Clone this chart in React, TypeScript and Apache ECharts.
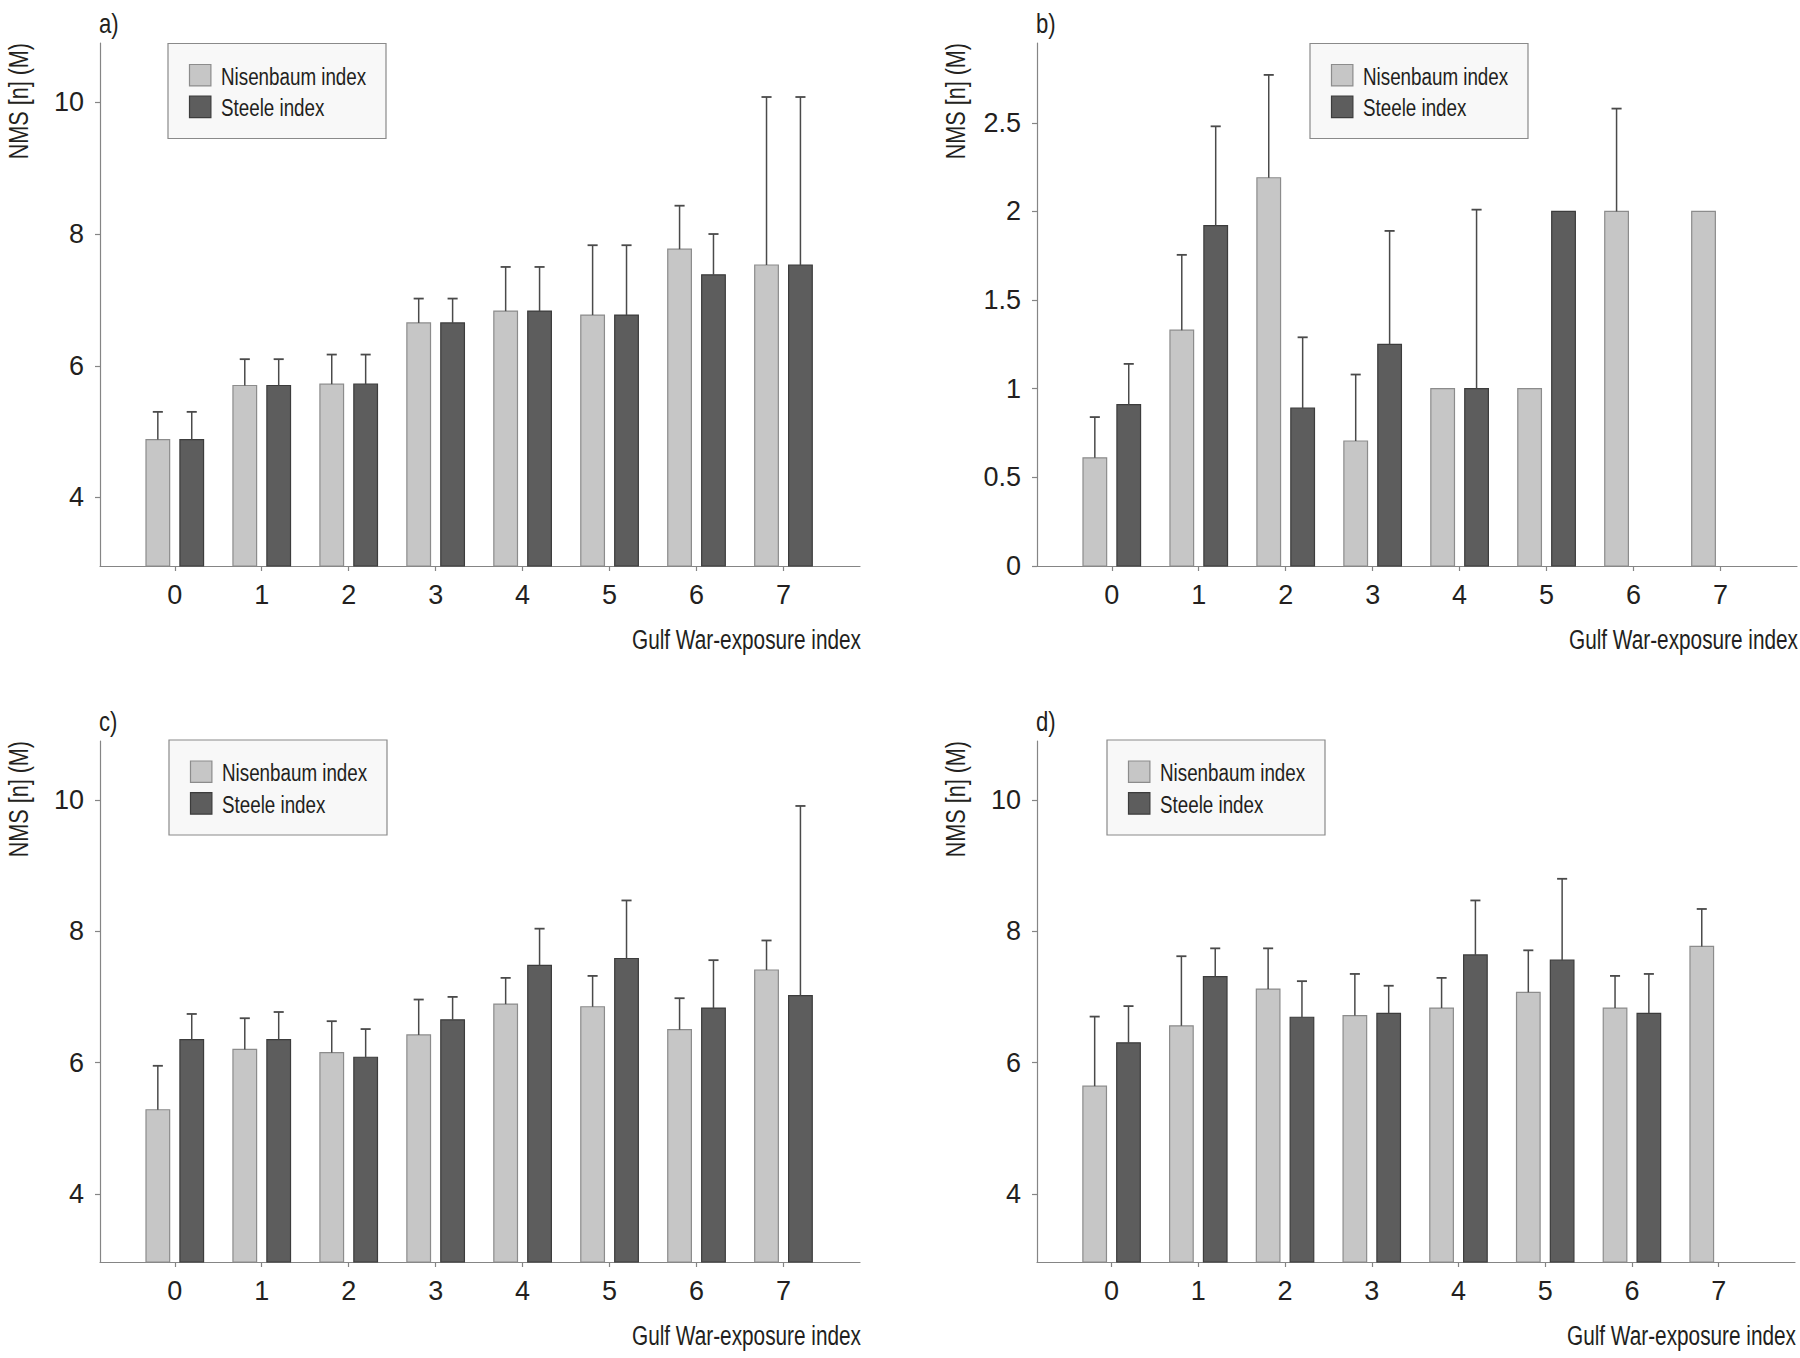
import React, { useEffect, useRef } from "react";
import * as echarts from "echarts";

// ---------- data ----------
const CATEGORIES = [0, 1, 2, 3, 4, 5, 6, 7];
const Y_TICKS_NMS = [4, 6, 8, 10];
const Y_TICKS_B = [0, 0.5, 1, 1.5, 2, 2.5];
const SERIES_NAMES = ["Nisenbaum index", "Steele index"];
const PANEL_LABELS = ["a)", "b)", "c)", "d)"];
const X_NAME = "Gulf War-exposure index";
const Y_NAME = "NMS [n] (M)";

// panel a
const A_NIS = [4.88, 5.7, 5.72, 6.65, 6.83, 6.77, 7.77, 7.53];
const A_NIS_TOP = [5.3, 6.1, 6.17, 7.02, 7.5, 7.83, 8.43, 10.08];
const A_STE = [4.88, 5.7, 5.72, 6.65, 6.83, 6.77, 7.38, 7.53];
const A_STE_TOP = [5.3, 6.1, 6.17, 7.02, 7.5, 7.83, 8.0, 10.08];
// panel b
const B_NIS = [0.61, 1.33, 2.19, 0.705, 1.0, 1.0, 2.0, 2.0];
const B_NIS_TOP = [0.84, 1.755, 2.77, 1.08, null, null, 2.58, null];
const B_STE = [0.91, 1.92, 0.89, 1.25, 1.0, 2.0, null, null];
const B_STE_TOP = [1.14, 2.48, 1.29, 1.89, 2.01, null, null, null];
// panel c
const C_NIS = [5.28, 6.2, 6.15, 6.42, 6.89, 6.85, 6.5, 7.41];
const C_NIS_TOP = [5.95, 6.675, 6.63, 6.96, 7.29, 7.32, 6.98, 7.86];
const C_STE = [6.35, 6.35, 6.08, 6.65, 7.48, 7.585, 6.83, 7.02];
const C_STE_TOP = [6.74, 6.77, 6.51, 7.0, 8.04, 8.47, 7.56, 9.91];
// panel d
const D_NIS = [5.64, 6.56, 7.12, 6.715, 6.83, 7.07, 6.83, 7.77];
const D_NIS_TOP = [6.7, 7.62, 7.74, 7.35, 7.29, 7.71, 7.32, 8.34];
const D_STE = [6.3, 7.31, 6.69, 6.75, 7.64, 7.56, 6.75, null];
const D_STE_TOP = [6.86, 7.74, 7.24, 7.17, 8.47, 8.8, 7.35, null];

// ---------- styles ----------
const FONT = '"Liberation Sans", Arial, "DejaVu Sans", sans-serif';
const TEXT = "#231f20";
const AXIS = "#858585";
const FILLS = ["#c6c6c6", "#5d5d5d"];
const STROKES = ["#8c8c8c", "#3c3c3c"];
const ERR = "#4a4a4a";
const OFFSETS = [-0.195, 0.195];
const HALF_W = 0.136;
const CAP = 0.058;

type Panel = {
  grid: { left: number; top: number; width: number; height: number };
  legend: { left: number; top: number };
  yMin: number;
  yMax: number;
  yTicks: number[];
  nis: (number | null)[];
  nisTop: (number | null)[];
  ste: (number | null)[];
  steTop: (number | null)[];
};

const PANELS: Panel[] = [
  { grid: { left: 100, top: 43, width: 760, height: 523 }, legend: { left: 168, top: 43.5 }, yMin: 2.96, yMax: 10.9, yTicks: Y_TICKS_NMS, nis: A_NIS, nisTop: A_NIS_TOP, ste: A_STE, steTop: A_STE_TOP },
  { grid: { left: 1037, top: 43, width: 760, height: 523 }, legend: { left: 1310, top: 43.5 }, yMin: 0, yMax: 2.95, yTicks: Y_TICKS_B, nis: B_NIS, nisTop: B_NIS_TOP, ste: B_STE, steTop: B_STE_TOP },
  { grid: { left: 100, top: 741, width: 760, height: 521 }, legend: { left: 169, top: 740 }, yMin: 2.96, yMax: 10.9, yTicks: Y_TICKS_NMS, nis: C_NIS, nisTop: C_NIS_TOP, ste: C_STE, steTop: C_STE_TOP },
  { grid: { left: 1037, top: 741, width: 758, height: 521 }, legend: { left: 1107, top: 740 }, yMin: 2.96, yMax: 10.9, yTicks: Y_TICKS_NMS, nis: D_NIS, nisTop: D_NIS_TOP, ste: D_STE, steTop: D_STE_TOP },
];

function makeRender(k: number, yMin: number) {
  return (params: any, api: any) => {
    const x = api.value(0);
    const v = api.value(1);
    const e = api.value(2);
    if (v == null || isNaN(v)) return null;
    const cx = x + OFFSETS[k];
    const p0 = api.coord([cx - HALF_W, v]);
    const p1 = api.coord([cx + HALF_W, yMin]);
    const children: any[] = [
      {
        type: "rect",
        shape: { x: p0[0], y: p0[1], width: p1[0] - p0[0], height: p1[1] - p0[1] },
        style: { fill: FILLS[k], stroke: STROKES[k], lineWidth: 1.2 },
      },
    ];
    if (e != null && !isNaN(e)) {
      const b = api.coord([cx, v]);
      const t = api.coord([cx, e]);
      const l = api.coord([cx - CAP, e]);
      const r = api.coord([cx + CAP, e]);
      children.push({ type: "line", shape: { x1: b[0], y1: b[1], x2: t[0], y2: t[1] }, style: { stroke: ERR, lineWidth: 1.5 } });
      children.push({ type: "line", shape: { x1: l[0], y1: t[1], x2: r[0], y2: t[1] }, style: { stroke: ERR, lineWidth: 1.8 } });
    }
    return { type: "group", children };
  };
}

const LEG_W = 218;
const LEG_H = 95;

function buildOption() {
  const grid: any[] = [];
  const xAxis: any[] = [];
  const yAxis: any[] = [];
  const series: any[] = [];
  const graphic: any[] = [];

  PANELS.forEach((p, i) => {
    grid.push({ ...p.grid, containLabel: false });
    xAxis.push({
      type: "value",
      gridIndex: i,
      min: -0.86,
      max: 7.88,
      splitLine: { show: false },
      axisLine: { show: true, onZero: false, lineStyle: { color: AXIS, width: 1.2 } },
      axisTick: { show: true, inside: false, length: 5, customValues: CATEGORIES, lineStyle: { color: AXIS, width: 1.2 } },
      axisLabel: { customValues: CATEGORIES, margin: 15, color: TEXT, fontFamily: FONT, fontSize: 27 },
    });
    yAxis.push({
      type: "value",
      gridIndex: i,
      min: p.yMin,
      max: p.yMax,
      splitLine: { show: false },
      axisLine: { show: true, onZero: false, lineStyle: { color: AXIS, width: 1.2 } },
      axisTick: { show: true, inside: false, length: 5, customValues: p.yTicks, lineStyle: { color: AXIS, width: 1.2 } },
      axisLabel: { customValues: p.yTicks, margin: 16, color: TEXT, fontFamily: FONT, fontSize: 27 },
    });
    const groups = [
      [p.nis, p.nisTop],
      [p.ste, p.steTop],
    ];
    groups.forEach((g, k) => {
      const vals = g[0] as (number | null)[];
      const tops = g[1] as (number | null)[];
      series.push({
        type: "custom",
        name: SERIES_NAMES[k],
        xAxisIndex: i,
        yAxisIndex: i,
        dimensions: ["x", "v", "e"],
        encode: { x: 0, y: 1 },
        itemStyle: { color: FILLS[k], borderColor: STROKES[k] },
        clip: false,
        data: CATEGORIES.map((c, j) => [c, vals[j], tops[j]]),
        renderItem: makeRender(k, p.yMin),
      });
    });

    // legend box (condensed type, drawn as graphic so the text can be narrowed)
    const L = p.legend;
    const legendChildren: any[] = [
      {
        type: "rect",
        shape: { x: 0, y: 0, width: LEG_W, height: LEG_H },
        style: { fill: "#f8f8f8", stroke: "#8a8a8a", lineWidth: 1.2 },
      },
    ];
    SERIES_NAMES.forEach((n, k) => {
      const sy = 21 + k * 31.7;
      legendChildren.push({
        type: "rect",
        shape: { x: 21.5, y: sy, width: 21.4, height: 21.4 },
        style: { fill: FILLS[k], stroke: STROKES[k], lineWidth: 1.2 },
      });
      legendChildren.push({
        type: "text",
        x: 53,
        y: sy + 12.5,
        scaleX: 0.8,
        style: { text: n, fill: TEXT, fontFamily: FONT, fontSize: 23.5, align: "left", verticalAlign: "middle" },
      });
    });
    graphic.push({ type: "group", x: L.left, y: L.top, children: legendChildren });

    const g = p.grid;
    graphic.push({
      type: "text",
      x: g.left - 1,
      y: g.top - 33,
      scaleX: 0.82,
      style: { text: PANEL_LABELS[i], fill: TEXT, fontFamily: FONT, fontSize: 27, align: "left", verticalAlign: "top" },
    });
    graphic.push({
      type: "text",
      x: g.left - 81,
      y: g.top,
      rotation: Math.PI / 2,
      scaleX: 0.8,
      style: { text: Y_NAME, fill: TEXT, fontFamily: FONT, fontSize: 27, align: "right", verticalAlign: "middle" },
    });
    graphic.push({
      type: "text",
      x: g.left + g.width + 1,
      y: g.top + g.height + 73,
      scaleX: 0.77,
      style: { text: X_NAME, fill: TEXT, fontFamily: FONT, fontSize: 27, align: "right", verticalAlign: "middle" },
    });
  });

  return {
    animation: false,
    backgroundColor: "#ffffff",
    grid,
    xAxis,
    yAxis,
    series,
    graphic,
  };
}

export default function App() {
  const ref = useRef<HTMLDivElement>(null);
  useEffect(() => {
    if (!ref.current) return;
    const chart = echarts.init(ref.current, undefined, { renderer: "svg" });
    chart.setOption(buildOption() as any);
    return () => chart.dispose();
  }, []);
  return (
    <div
      ref={ref}
      style={{ position: "absolute", left: 0, top: 0, width: 1800, height: 1358, background: "#fff" }}
    />
  );
}
